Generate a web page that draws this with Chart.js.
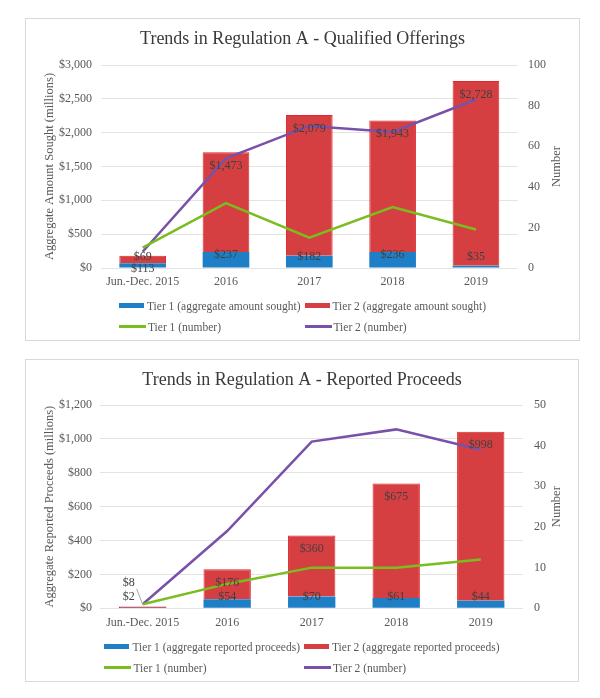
<!DOCTYPE html>
<html>
<head>
<meta charset="utf-8">
<script src="https://cdn.jsdelivr.net/npm/chart.js@4.4.1/dist/chart.umd.min.js"></script>
<style>
  body { margin: 0; background: #fff; width: 600px; height: 698px; position: relative; font-family: 'Liberation Serif', serif; }
  .box { position: absolute; border: 1px solid #d9d9d9; box-sizing: border-box; background: #fff; }
  .box canvas { position: absolute; left: 0; top: 0; }
  .legend { position: absolute; left: 0; right: 0; top: 276px; display: grid; grid-template-columns: auto auto; column-gap: 4px; justify-content: center; font-size: 11.5px; color: #595959; }
  .item { height: 21px; display: flex; align-items: center; white-space: nowrap; }
  .sw { display: inline-block; width: 25px; height: 5px; margin-right: 3px; }
  .ln { display: inline-block; width: 27px; height: 2.5px; margin-right: 2px; }
</style>
</head>
<body>
<div class="box" style="left:25px; top:18px; width:555px; height:323px;">
  <canvas id="c1" width="553" height="280" style="width:553px;height:280px"></canvas>
  <div class="legend" id="lg1"></div>
</div>
<div class="box" style="left:25px; top:359px; width:554px; height:323px;">
  <canvas id="c2" width="552" height="279" style="width:552px;height:279px"></canvas>
  <div class="legend" id="lg2"></div>
</div>
<script>
// --- DATA ---
const categories = ['Jun.-Dec. 2015', '2016', '2017', '2018', '2019'];

// qualified offerings
const qualTier1Amount = [69, 237, 182, 236, 35];
const qualTier2Amount = [113, 1473, 2079, 1943, 2728];
const qualTier1Number = [10, 32, 15, 30, 19];
const qualTier2Number = [8, 54, 70, 67, 83];

// reported proceeds
const procTier1Amount = [2, 54, 70, 61, 44];
const procTier2Amount = [8, 176, 360, 675, 998];
const procTier1Number = [1, 6, 10, 10, 12];
const procTier2Number = [1, 19, 41, 44, 39];

// --- COLOURS ---
const BLUE = '#1f7fc6';
const RED = '#d63f42';
const RED_BORDER = '#e3262b';
const GREEN = '#7abd1e';
const PURPLE = '#7851a9';
const TEXT = '#595959';
const LABEL = '#404040';
const FONT = 'Liberation Serif';

const money = v => '$' + v.toLocaleString('en-US');

// secondary axis title reads bottom-to-top like the primary one
const rightTitlePlugin = {
  id: 'rightTitle',
  afterDraw(chart, args, opts) {
    const { ctx, chartArea } = chart;
    ctx.save();
    ctx.translate(opts.x, (chartArea.top + chartArea.bottom) / 2);
    ctx.rotate(-Math.PI / 2);
    ctx.font = `12.5px "${FONT}"`;
    ctx.fillStyle = TEXT;
    ctx.textAlign = 'center';
    ctx.textBaseline = 'middle';
    ctx.fillText(opts.text, 0, 0);
    ctx.restore();
  }
};

// value labels on the bar segments
const barLabelPlugin = {
  id: 'barLabels',
  afterDatasetsDraw(chart, args, opts) {
    const { ctx } = chart;
    ctx.save();
    ctx.font = `12px "${FONT}"`;
    ctx.textAlign = 'center';
    ctx.textBaseline = 'middle';
    chart.data.datasets.forEach((ds, di) => {
      if (ds.type !== 'bar') return;
      const meta = chart.getDatasetMeta(di);
      meta.data.forEach((el, i) => {
        const { x, y, base } = el.getProps(['x', 'y', 'base'], true);
        let lx = x;
        let ly = di === 0 ? Math.min(y + 3, base - 11) : y + 13.5;
        const n = (opts.nudges || []).find(k => k.ds === di && k.i === i);
        if (n) {
          lx += n.dx;
          ly += n.dy;
          if (n.leader) {
            ctx.strokeStyle = '#a6a6a6';
            ctx.lineWidth = 1;
            ctx.beginPath();
            ctx.moveTo(lx + 8, ly + 6);
            ctx.lineTo(x, y - 2);
            ctx.stroke();
          }
        }
        ctx.fillStyle = LABEL;
        ctx.fillText(money(ds.data[i]), lx, ly);
      });
    });
    ctx.restore();
  }
};

function buildLegend(id, labels) {
  const el = document.getElementById(id);
  const marks = [
    `<span class="sw" style="background:${BLUE}"></span>`,
    `<span class="sw" style="background:${RED}"></span>`,
    `<span class="ln" style="background:${GREEN}"></span>`,
    `<span class="ln" style="background:${PURPLE}"></span>`
  ];
  el.innerHTML = labels.map((t, i) => `<div class="item">${marks[i]}<span>${t}</span></div>`).join('');
}

function makeChart(id, cfg) {
  const tickFont = { family: FONT, size: 12 };
  return new Chart(document.getElementById(id), {
    type: 'bar',
    data: {
      labels: categories,
      datasets: [
        { type: 'bar', label: cfg.legend[0], data: cfg.t1, backgroundColor: BLUE, borderWidth: 0, yAxisID: 'y', order: 1, categoryPercentage: 0.8, barPercentage: 0.7 },
        { type: 'bar', label: cfg.legend[1], data: cfg.t2, backgroundColor: RED, borderColor: RED_BORDER, borderWidth: 1, yAxisID: 'y', order: 1, categoryPercentage: 0.8, barPercentage: 0.7 },
        { type: 'line', label: cfg.legend[2], data: cfg.n1, borderColor: GREEN, borderWidth: 2.5, pointRadius: 0, yAxisID: 'y1', order: 0 },
        { type: 'line', label: cfg.legend[3], data: cfg.n2, borderColor: PURPLE, borderWidth: 2.5, pointRadius: 0, yAxisID: 'y1', order: 0 }
      ]
    },
    options: {
      responsive: false,
      animation: false,
      devicePixelRatio: 1,
      layout: { padding: { left: 0, right: 0, top: 0, bottom: cfg.padBottom } },
      scales: {
        x: {
          stacked: true,
          grid: { display: false, drawTicks: false },
          border: { display: false },
          ticks: { font: tickFont, color: TEXT, padding: 7, maxRotation: 0 }
        },
        y: {
          stacked: true,
          min: 0,
          max: cfg.yMax,
          grid: { color: '#e3e3e3', drawTicks: false },
          border: { display: false },
          ticks: { font: tickFont, color: TEXT, stepSize: cfg.yStep, padding: cfg.yPad, callback: v => money(v) },
          title: { display: true, text: cfg.yTitle, font: { family: FONT, size: 12.5 }, color: TEXT, padding: { top: cfg.yTitlePad, bottom: 0 } },
          afterFit: s => { s.width = cfg.leftW; }
        },
        y1: {
          position: 'right',
          min: 0,
          max: cfg.y1Max,
          grid: { display: false, drawTicks: false },
          border: { display: false },
          ticks: { font: tickFont, color: TEXT, stepSize: cfg.y1Step, padding: cfg.y1Pad },
          afterFit: s => { s.width = cfg.rightW; }
        }
      },
      plugins: {
        legend: { display: false },
        tooltip: { enabled: false },
        title: {
          display: true,
          text: cfg.title,
          color: '#3a3a3a',
          font: { family: FONT, size: 18, weight: 'normal' },
          padding: cfg.titlePad
        },
        rightTitle: { text: 'Number', x: 531 },
        barLabels: { nudges: cfg.nudges || [] }
      }
    },
    plugins: [rightTitlePlugin, barLabelPlugin]
  });
}

const legend1 = ['Tier 1 (aggregate amount sought)', 'Tier 2 (aggregate amount sought)', 'Tier 1 (number)', 'Tier 2 (number)'];
const legend2 = ['Tier 1 (aggregate reported proceeds)', 'Tier 2 (aggregate reported proceeds)', 'Tier 1 (number)', 'Tier 2 (number)'];

makeChart('c1', {
  title: 'Trends in Regulation A - Qualified Offerings',
  yTitle: 'Aggregate Amount Sought (millions)',
  legend: legend1,
  t1: qualTier1Amount, t2: qualTier2Amount, n1: qualTier1Number, n2: qualTier2Number,
  yMax: 3000, yStep: 500, y1Max: 100, y1Step: 20,
  leftW: 75, rightW: 61.4, yPad: 9, y1Pad: 10.4, yTitlePad: 16.5,
  titlePad: { top: 9.5, bottom: 14.9 }, padBottom: 2.6
});

makeChart('c2', {
  title: 'Trends in Regulation A - Reported Proceeds',
  yTitle: 'Aggregate Reported Proceeds (millions)',
  legend: legend2,
  t1: procTier1Amount, t2: procTier2Amount, n1: procTier1Number, n2: procTier2Number,
  yMax: 1200, yStep: 200, y1Max: 50, y1Step: 10,
  leftW: 74.4, rightW: 55, yPad: 8.4, y1Pad: 11, yTitlePad: 16.25,
  titlePad: { top: 9.2, bottom: 14.2 }, padBottom: 2.3,
  nudges: [
    { ds: 1, i: 0, dx: -14, dy: -37.4, leader: true },
    { ds: 0, i: 0, dx: -14, dy: 0 }
  ]
});

buildLegend('lg1', legend1);
buildLegend('lg2', legend2);
</script>
</body>
</html>
